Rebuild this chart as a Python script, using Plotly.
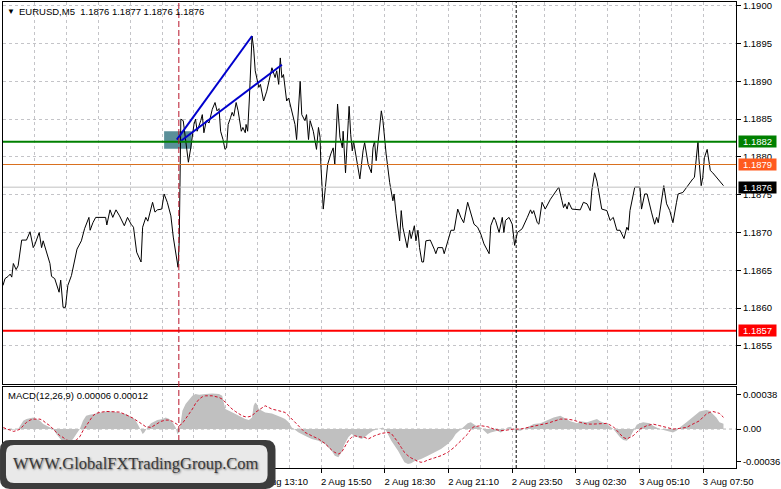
import plotly.graph_objects as go

# ---------------- data (time in minutes from 2 Aug 00:00, M5 EURUSD) ----------------
price_time = [150,155,163,168,172,176,183,188,197,209,
              218,226,230,241,247,251,268,272,280,291,
              295,301,307,313,322,328,336,347,355,366,
              369,376,383,408,411,419,426,434,443,455,
              463,472,478,486,497,501,509,514,526,532,
              538,549,555,563,572,578,584,590,593,597,
              603,609,616,622,630,634,638,647,651,655,
              661,668,676,683,688,693,697,703,708,712,
              716,722,726,730,736,741,744,749,753,759,
              761,765,769,773,776,780,784,793,797,805,
              813,826,834,838,843,847,851,855,859,863,
              868,876,884,888,893,897,901,909,913,918,
              922,930,938,943,947,949,955,961,966,974,
              980,984,991,997,1003,1005,1011,1018,1020,1024,
              1028,1031,1038,1047,1055,1059,1068,1076,1080,1084,
              1088,1097,1101,1105,1113,1122,1126,1130,1133,1138,
              1147,1151,1155,1166,1172,1176,1184,1188,1193,1197,
              1203,1207,1213,1224,1234,1238,1243,1255,1259,1268,
              1276,1284,1293,1301,1308,1318,1326,1334,1343,1351,
              1359,1372,1376,1384,1388,1397,1405,1409,1413,1422,
              1430,1436,1443,1455,1468,1476,1480,1484,1493,1497,
              1505,1513,1526,1547,1555,1559,1563,1568,1572,1580,
              1601,1609,1618,1626,1630,1637,1643,1651,1655,1668,
              1676,1684,1693,1701,1711,1718,1722,1726,1734,1738,
              1751,1755,1763,1769,1780,1788,1793,1797,1811,1818,
              1826,1834,1843,1847,1859,1868,1876,1884,1888,1891,
              1897,1899,1902,1905,1909,1913,1920,1924,1928,1934,
              1943,1951,1961]
price_value = [1.18630,1.18639,1.18642,1.18645,1.18641,1.18659,1.18651,1.18656,1.18690,1.18690,
               1.18701,1.18680,1.18684,1.18700,1.18680,1.18689,1.18659,1.18642,1.18639,1.18621,
               1.18637,1.18601,1.18601,1.18630,1.18643,1.18659,1.18678,1.18689,1.18705,1.18720,
               1.18703,1.18713,1.18720,1.18720,1.18710,1.18730,1.18720,1.18730,1.18722,1.18709,
               1.18720,1.18711,1.18707,1.18674,1.18661,1.18707,1.18720,1.18715,1.18740,1.18727,
               1.18730,1.18731,1.18751,1.18740,1.18722,1.18694,1.18672,1.18654,1.18689,1.18850,
               1.18848,1.18821,1.18793,1.18812,1.18843,1.18850,1.18834,1.18848,1.18856,1.18832,
               1.18848,1.18845,1.18863,1.18872,1.18861,1.18864,1.18834,1.18823,1.18810,1.18812,
               1.18843,1.18852,1.18859,1.18854,1.18872,1.18861,1.18848,1.18834,1.18839,1.18832,
               1.18843,1.18834,1.18874,1.18936,1.18960,1.18944,1.18914,1.18892,1.18896,1.18874,
               1.18887,1.18918,1.18905,1.18914,1.18896,1.18931,1.18905,1.18909,1.18892,1.18874,
               1.18878,1.18859,1.18843,1.18823,1.18861,1.18900,1.18856,1.18848,1.18856,1.18823,
               1.18848,1.18834,1.18810,1.18839,1.18826,1.18790,1.18731,1.18760,1.18790,1.18804,
               1.18812,1.18790,1.18870,1.18826,1.18812,1.18834,1.18779,1.18848,1.18867,1.18830,
               1.18808,1.18821,1.18799,1.18771,1.18808,1.18819,1.18790,1.18779,1.18812,1.18821,
               1.18795,1.18843,1.18861,1.18848,1.18804,1.18766,1.18753,1.18742,1.18751,1.18725,
               1.18689,1.18729,1.18707,1.18680,1.18703,1.18692,1.18709,1.18689,1.18703,1.18680,
               1.18661,1.18661,1.18689,1.18690,1.18678,1.18672,1.18680,1.18680,1.18672,1.18689,
               1.18703,1.18703,1.18731,1.18720,1.18713,1.18740,1.18727,1.18711,1.18707,1.18698,
               1.18685,1.18672,1.18709,1.18720,1.18716,1.18700,1.18720,1.18700,1.18716,1.18720,
               1.18711,1.18683,1.18700,1.18705,1.18720,1.18730,1.18725,1.18729,1.18713,1.18711,
               1.18740,1.18731,1.18744,1.18760,1.18742,1.18733,1.18738,1.18731,1.18740,1.18731,
               1.18730,1.18740,1.18738,1.18729,1.18755,1.18779,1.18768,1.18742,1.18731,1.18729,
               1.18716,1.18720,1.18703,1.18703,1.18692,1.18707,1.18703,1.18729,1.18751,1.18760,
               1.18760,1.18731,1.18751,1.18751,1.18727,1.18711,1.18720,1.18713,1.18762,1.18738,
               1.18729,1.18713,1.18740,1.18751,1.18753,1.18760,1.18766,1.18771,1.18773,1.18790,
               1.18821,1.18799,1.18773,1.18762,1.18773,1.18799,1.18810,1.18797,1.18782,1.18779,
               1.18773,1.18768,1.18762]

hist_time = [150,168,188,193,201,209,218,226,234,243,251,259,268,276,284,293,301,309,318,326,
             334,343,351,359,368,384,393,409,426,443,459,476,484,493,501,505,513,522,530,538,
             551,559,568,576,584,588,593,597,601,609,618,626,634,643,659,676,693,701,705,709,
             718,726,734,743,751,759,768,776,780,784,788,793,801,809,826,843,851,859,868,876,
             884,893,909,926,943,959,968,976,984,993,1001,1009,1018,1026,1034,1043,1051,1059,1068,1080,
             1093,1105,1113,1126,1143,1151,1159,1168,1176,1184,1201,1218,1234,1251,1268,1280,1288,1297,1309,1318,
             1326,1334,1343,1351,1359,1368,1376,1393,1401,1409,1418,1426,1434,1451,1459,1468,1484,1501,1518,1534,
             1551,1559,1576,1593,1601,1618,1634,1643,1651,1668,1684,1693,1701,1709,1718,1726,1734,1743,1751,1759,
             1776,1784,1801,1818,1834,1843,1851,1868,1884,1901,1909,1918,1926,1934,1943,1951,1961]
hist_value = [0.000007,-0.000011,0.0,0.000037,0.000092,0.000110,0.000122,0.000129,0.000110,0.000092,
              0.000055,0.000037,0.000018,0.0,-0.000055,-0.000110,-0.000147,-0.000166,-0.000147,-0.000110,
              -0.000055,0.0,0.000092,0.000147,0.000158,0.000173,0.000184,0.000195,0.000195,0.000184,
              0.000166,0.000129,0.000092,0.000018,-0.000055,-0.000037,0.000018,0.000063,0.000085,0.000099,
              0.000110,0.000129,0.000110,0.000074,0.000018,-0.000055,-0.000037,0.000110,0.000203,0.000276,
              0.000331,0.000368,0.000387,0.000379,0.000387,0.000394,0.000387,0.000368,0.000295,0.000221,
              0.000203,0.000184,0.000166,0.000147,0.000129,0.000110,0.000099,0.000129,0.000258,0.000295,
              0.000276,0.000221,0.000203,0.000184,0.000173,0.000147,0.000129,0.000110,0.000074,0.000018,
              -0.000011,-0.000037,-0.000074,-0.000110,-0.000129,-0.000166,-0.000203,-0.000239,-0.000295,-0.000313,
              -0.000258,-0.000166,-0.000092,-0.000055,-0.000074,-0.000092,-0.000110,-0.000092,-0.000055,-0.000018,
              0.0,0.000018,-0.000018,-0.000129,-0.000239,-0.000313,-0.000368,-0.000387,-0.000379,-0.000357,
              -0.000331,-0.000295,-0.000258,-0.000221,-0.000166,-0.000110,-0.000055,-0.000018,0.000037,0.000063,
              0.000074,0.000055,0.000026,0.000018,-0.000018,-0.000055,-0.000037,-0.000018,-0.000037,-0.000018,
              0.000018,0.000026,-0.000011,-0.000018,0.0,0.000018,0.000055,0.000063,0.000099,0.000129,
              0.000147,0.000129,0.000085,0.000063,0.000085,0.000074,0.000099,0.000110,0.000085,0.000055,
              0.0,-0.000055,-0.000092,-0.000122,-0.000129,-0.000092,-0.000018,0.000048,0.000063,0.000074,
              0.000063,0.000037,0.0,-0.000018,-0.000037,-0.000018,0.000018,0.000074,0.000129,0.000195,
              0.000203,0.000210,0.000203,0.000166,0.000129,0.000074,0.000060]

signal_time = [151,159,168,176,184,193,201,209,218,226,243,251,259,268,276,284,293,301,309,318,
               326,334,343,351,359,368,376,384,393,409,426,443,459,476,493,509,522,534,547,559,
               568,576,584,593,601,609,618,626,634,643,651,659,676,693,701,709,718,726,734,743,
               751,759,768,776,784,793,801,809,818,826,843,859,868,876,884,893,901,909,926,943,
               959,968,976,984,993,1001,1009,1018,1026,1034,1043,1059,1068,1084,1101,1118,1126,1134,1143,1151,
               1159,1168,1176,1193,1201,1209,1218,1234,1251,1268,1284,1301,1318,1326,1334,1351,1368,1384,1401,1418,
               1434,1451,1468,1484,1501,1518,1534,1551,1568,1584,1601,1618,1634,1651,1668,1684,1693,1701,1709,1718,
               1726,1734,1743,1751,1768,1784,1801,1818,1834,1851,1868,1884,1901,1909,1918,1926,1934,1943,1951,1961]
signal_value = [0.000018,0.0,-0.000011,-0.000026,-0.000018,0.0,0.000037,0.000074,0.000099,0.000110,
                0.000110,0.000092,0.000063,0.000037,0.0,-0.000037,-0.000074,-0.000092,-0.000122,-0.000129,
                -0.000136,-0.000122,-0.000085,-0.000018,0.000037,0.000099,0.000147,0.000173,0.000184,0.000195,
                0.000195,0.000188,0.000158,0.000122,0.000074,0.000026,0.000018,0.000048,0.000085,0.000099,
                0.000099,0.000085,0.000063,0.000037,0.000063,0.000110,0.000166,0.000221,0.000283,0.000331,
                0.000357,0.000368,0.000368,0.000350,0.000331,0.000295,0.000258,0.000221,0.000195,0.000166,
                0.000147,0.000136,0.000136,0.000147,0.000184,0.000210,0.000239,0.000258,0.000239,0.000221,
                0.000203,0.000184,0.000147,0.000110,0.000074,0.000037,-0.000011,-0.000037,-0.000074,-0.000110,
                -0.000158,-0.000203,-0.000232,-0.000258,-0.000276,-0.000258,-0.000203,-0.000129,-0.000092,-0.000074,
                -0.000085,-0.000092,-0.000110,-0.000074,-0.000048,-0.000037,-0.000048,-0.000092,-0.000147,-0.000203,
                -0.000258,-0.000295,-0.000320,-0.000357,-0.000368,-0.000361,-0.000342,-0.000320,-0.000295,-0.000258,
                -0.000203,-0.000129,-0.000055,0.0,0.000026,0.000037,0.000026,0.0,-0.000018,-0.000011,
                0.0,0.0,0.000018,0.000037,0.000048,0.000063,0.000085,0.000110,0.000110,0.000099,
                0.000074,0.000055,0.000055,0.000063,0.000063,0.000026,-0.000018,-0.000055,-0.000092,-0.000110,
                -0.000092,-0.000074,-0.000037,0.0,0.000037,0.000055,0.000037,0.000018,0.0,0.000007,
                0.000018,0.000055,0.000092,0.000129,0.000166,0.000184,0.000195,0.000184,0.000173,0.000130]

tick_minutes = [150, 310, 470, 630, 790, 950, 1110, 1270, 1430, 1590, 1750, 1910]
tick_labels = ["2 Aug 02:30", "2 Aug 05:10", "2 Aug 07:50", "2 Aug 10:30", "2 Aug 13:10",
               "2 Aug 15:50", "2 Aug 18:30", "2 Aug 21:10", "2 Aug 23:50", "3 Aug 02:30",
               "3 Aug 05:10", "3 Aug 07:50"]
grid_minutes = [230, 390, 550, 710, 870, 1030, 1190, 1350, 1510, 1670, 1830, 1990]
price_ticks = [1.1855, 1.1860, 1.1865, 1.1870, 1.1875, 1.1880, 1.1885, 1.1890, 1.1895, 1.1900]
price_tick_labels = ["1.1855", "1.1860", "1.1865", "1.1870", "1.1875", "1.1880",
                     "1.1885", "1.1890", "1.1895", "1.1900"]
macd_ticks = [0.00038, 0.0, -0.00036]
macd_tick_labels = ["0.00038", "0.00", "-0.00036"]

level_resistance = 1.1882
level_ask = 1.1879
level_bid = 1.1876
level_support = 1.1857
event_time = 592
day_separator_time = 1440

trend1_time = [587, 776]
trend1_price = [1.18823, 1.18960]
trend2_time = [597, 851]
trend2_price = [1.18821, 1.18922]
zone_time = [555, 624]
zone_price = [1.18811, 1.18834]

title_text = "EURUSD,M5  1.1876 1.1877 1.1876 1.1876"
macd_text = "MACD(12,26,9) 0.00006 0.00012"
watermark_text = "WWW.GlobalFXTradingGroup.Com"

# ---------------- layout helpers (pixel -> paper) ----------------
PL, PR, PT, PB = 3, 740, 1, 468


def px_x(px):
    return (px - PL) / (PR - PL)


def px_y(py):
    return (PB - py) / (PB - PT)


def rrect(x0, y0, x1, y1, r):
    P = lambda x, y: f"{px_x(x):.5f},{px_y(y):.5f}"
    return (f"M {P(x0 + r, y0)} L {P(x1 - r, y0)} Q {P(x1, y0)} {P(x1, y0 + r)} "
            f"L {P(x1, y1 - r)} Q {P(x1, y1)} {P(x1 - r, y1)} L {P(x0 + r, y1)} "
            f"Q {P(x0, y1)} {P(x0, y1 - r)} L {P(x0, y0 + r)} Q {P(x0, y0)} {P(x0 + r, y0)} Z")


FONT = "Liberation Sans, Arial, sans-serif"
GRID = "#c4c4c8"

fig = go.Figure()

# zone rectangle
fig.add_trace(go.Scatter(
    x=[zone_time[0], zone_time[1], zone_time[1], zone_time[0], zone_time[0]],
    y=[zone_price[0], zone_price[0], zone_price[1], zone_price[1], zone_price[0]],
    mode="lines", fill="toself", fillcolor="#5a8f99", line=dict(width=0),
    xaxis="x", yaxis="y", hoverinfo="skip"))

# price line
fig.add_trace(go.Scatter(x=price_time, y=price_value, mode="lines",
                         line=dict(color="black", width=1), xaxis="x", yaxis="y"))

# trend lines
fig.add_trace(go.Scatter(x=trend1_time, y=trend1_price, mode="lines",
                         line=dict(color="#0000cd", width=2), xaxis="x", yaxis="y"))
fig.add_trace(go.Scatter(x=trend2_time, y=trend2_price, mode="lines",
                         line=dict(color="#0000cd", width=2), xaxis="x", yaxis="y"))

# MACD histogram
fig.add_trace(go.Scatter(x=hist_time, y=hist_value, mode="lines", fill="tozeroy",
                         fillcolor="#c0c0c0", line=dict(color="#c0c0c0", width=0),
                         xaxis="x2", yaxis="y2"))
# MACD signal
fig.add_trace(go.Scatter(x=signal_time, y=signal_value, mode="lines",
                         line=dict(color="#d0102a", width=1, dash="3px,2px"),
                         xaxis="x2", yaxis="y2"))

xr = [150, 150 + (PR - PL) * 2.5]
main_bottom = px_y(383.5)
macd_top = px_y(386.5)

common_x = dict(range=xr, tickmode="array", tickvals=tick_minutes, ticktext=tick_labels,
                showgrid=True, gridcolor=GRID, griddash="3px,3px", gridwidth=1,
                minor=dict(tickmode="array", tickvals=grid_minutes, showgrid=True,
                           gridcolor=GRID, griddash="3px,3px", ticks=""),
                showline=True, linecolor="black", linewidth=1, mirror=True,
                zeroline=False, fixedrange=True)

fig.update_layout(
    width=781, height=489, autosize=False,
    margin=dict(l=PL, r=781 - PR, t=PT, b=489 - PB, pad=0),
    paper_bgcolor="white", plot_bgcolor="white",
    showlegend=False,
    font=dict(family=FONT, size=9.5, color="black"),
    xaxis=dict(**common_x, domain=[0, 1], anchor="y", showticklabels=False, ticks=""),
    xaxis2=dict(**common_x, domain=[0, 1], anchor="y2", matches="x", showticklabels=True,
                ticks="outside", ticklen=4, tickcolor="black", ticklabelshift=25,
                ticklabelstandoff=1, tickfont=dict(family=FONT, size=9.5)),
    yaxis=dict(domain=[main_bottom, 1], anchor="x", side="right",
               range=[1.1850, 1.19005], tickmode="array", tickvals=price_ticks,
               ticktext=price_tick_labels, ticks="outside", ticklen=4, tickcolor="black",
               showgrid=True, gridcolor=GRID, griddash="3px,3px",
               showline=True, linecolor="black", mirror=True, zeroline=False,
               tickfont=dict(family=FONT, size=9.5)),
    yaxis2=dict(domain=[0, macd_top], anchor="x2", side="right",
                range=[-0.000431, 0.000469], tickmode="array", tickvals=macd_ticks,
                ticktext=macd_tick_labels, ticks="outside", ticklen=4, tickcolor="black",
                showgrid=False, showline=True, linecolor="black", mirror=True,
                zeroline=False, tickfont=dict(family=FONT, size=9.5)),
)

# level lines
fig.add_shape(type="line", xref="x domain", yref="y", x0=0, x1=1,
              y0=level_bid, y1=level_bid, line=dict(color="#c0c0c0", width=1), layer="above")
fig.add_shape(type="line", xref="x domain", yref="y", x0=0, x1=1,
              y0=level_ask, y1=level_ask, line=dict(color="#d9701f", width=1), layer="above")
fig.add_shape(type="line", xref="x domain", yref="y", x0=0, x1=1,
              y0=level_resistance, y1=level_resistance, line=dict(color="#008000", width=2), layer="above")
fig.add_shape(type="line", xref="x domain", yref="y", x0=0, x1=1,
              y0=level_support, y1=level_support, line=dict(color="#ff0000", width=2), layer="above")
# MACD zero level
fig.add_shape(type="line", xref="x2 domain", yref="y2", x0=0, x1=1, y0=0, y1=0,
              line=dict(color="#b8b8b8", width=1, dash="3px,3px"), layer="below")
# vertical markers
fig.add_shape(type="line", xref="x", yref="paper", x0=event_time, x1=event_time, y0=0, y1=1,
              line=dict(color="#b8142a", width=1, dash="6px,3px"), layer="above")
fig.add_shape(type="line", xref="x", yref="paper", x0=day_separator_time, x1=day_separator_time,
              y0=0, y1=1, line=dict(color="black", width=1, dash="3px,2px"), layer="above")

# watermark box
fig.add_shape(type="path", xref="paper", yref="paper", path=rrect(0, 440, 277, 489, 10),
              fillcolor="#3c3c3c", line=dict(width=0), layer="above")
fig.add_shape(type="path", xref="paper", yref="paper", path=rrect(6, 445, 269, 483, 8),
              fillcolor="#e9e9e9", line=dict(width=0), layer="above")

annotations = [
    dict(x=px_x(5), y=px_y(10.5), xref="paper", yref="paper", xanchor="left", yanchor="middle",
         text="▼", showarrow=False, font=dict(family=FONT, size=8, color="black")),
    dict(x=px_x(17), y=px_y(11), xref="paper", yref="paper", xanchor="left", yanchor="middle",
         text=title_text, showarrow=False, font=dict(family=FONT, size=9.5, color="black")),
    dict(x=px_x(6), y=px_y(395), xref="paper", yref="paper", xanchor="left", yanchor="middle",
         text=macd_text, showarrow=False, font=dict(family=FONT, size=9.5, color="black")),
    dict(x=px_x(137), y=px_y(463), xref="paper", yref="paper", xanchor="center", yanchor="middle",
         text=watermark_text, showarrow=False,
         font=dict(family="Liberation Serif, Times New Roman, serif", size=16.5, color="#3a3a3a",
                   shadow="1px 1px 2px #777777")),
]
for lvl, col in [(level_resistance, "#008000"), (level_ask, "#ff5a1e"),
                 (level_bid, "#000000"), (level_support, "#ff0000")]:
    annotations.append(dict(x=1, xref="paper", xanchor="left", xshift=2, y=lvl, yref="y",
                            yanchor="middle", text=f"{lvl:.4f}", showarrow=False,
                            bgcolor=col, width=37, height=11, borderpad=0, align="center",
                            font=dict(family=FONT, size=9.5, color="white")))
fig.update_layout(annotations=annotations)

fig.write_html("out.html", config={"displayModeBar": False},
               post_script="document.body.style.margin='0px';document.body.style.padding='0px';")
